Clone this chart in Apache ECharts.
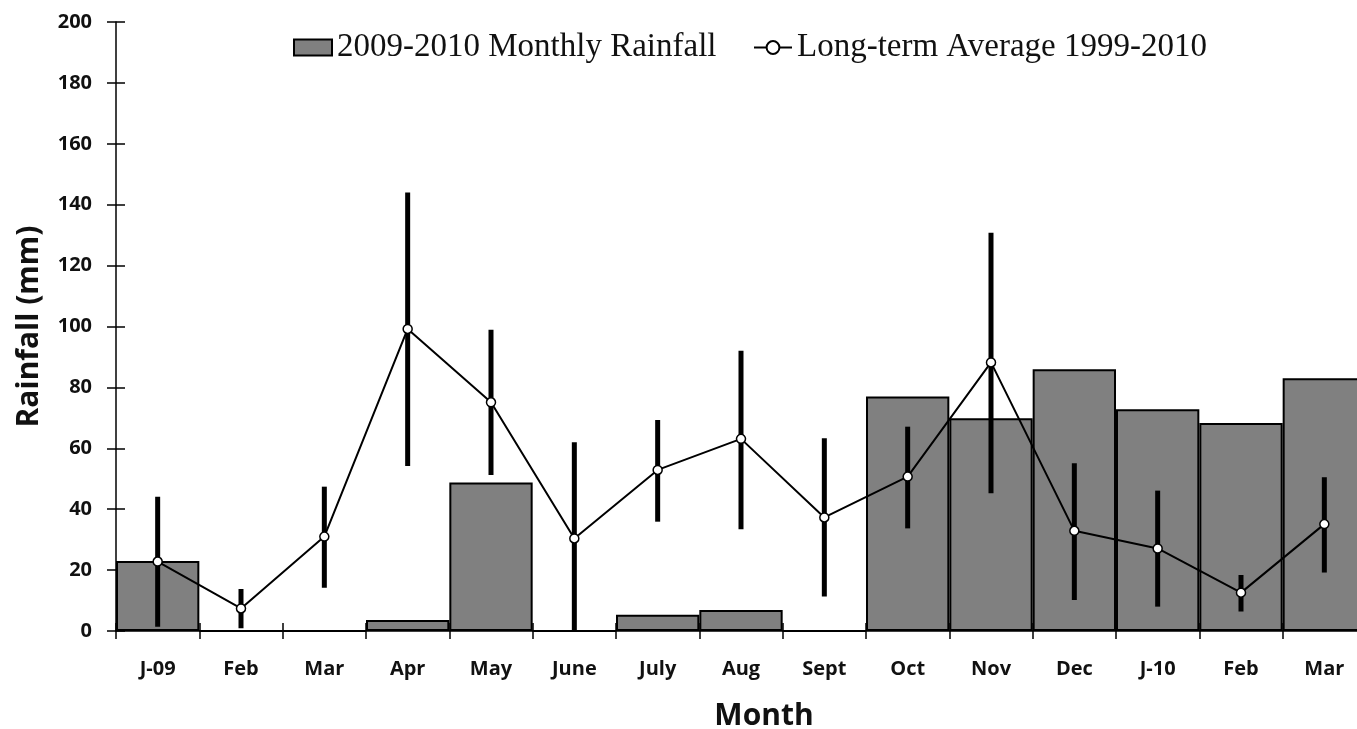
<!DOCTYPE html>
<html>
<head>
<meta charset="utf-8">
<script src="https://cdn.jsdelivr.net/npm/echarts@6/dist/echarts.min.js"></script>
<style>
html,body{margin:0;padding:0;background:#fff;}
#chart{width:1357px;height:729px;}
</style>
</head>
<body>
<div id="chart"></div>
<script>
const categories = ['J-09','Feb','Mar','Apr','May','June','July','Aug','Sept','Oct','Nov','Dec','J-10','Feb','Mar'];
const monthlyRainfall = [23, 0, 0, 3.6, 48.8, 0, 5.3, 6.9, 0, 77, 69.9, 86, 72.8, 68.3, 83];
const longTermAverage = [22.8, 7.4, 31, 99.2, 75.1, 30.4, 52.9, 63.1, 37.3, 50.7, 88.2, 32.9, 27.1, 12.6, 35.1];
const errLow  = [1.4, 0.9, 14.2, 54.2, 51.2, 0, 35.9, 33.4, 11.3, 33.7, 45.2, 10.2, 8, 6.4, 19.2];
const errHigh = [44.1, 13.8, 47.4, 144, 98.9, 62, 69.3, 92, 63.3, 67.1, 130.8, 55.1, 46.1, 18.4, 50.5];
const yTicks = {min: 0, max: 200, interval: 20};

const chart = echarts.init(document.getElementById('chart'));
const tickFont = {fontFamily: 'Open Sans', fontWeight: 'bold', fontSize: 20, color: '#111'};
const legendFont = {fontFamily: 'Liberation Serif', fontSize: 33, color: '#111'};

const option = {
  backgroundColor: '#fff',
  animation: false,
  grid: {left: 116, top: 22, width: 1250, height: 609, containLabel: false, outerBoundsMode: 'none'},
  legend: [
    {data: [{name: '2009-2010 Monthly Rainfall', icon: 'rect'}], left: 288, top: 26, itemWidth: 38, itemHeight: 16, itemGap: 4, textStyle: legendFont},
    {data: ['Long-term Average 1999-2010'], left: 748, top: 26, itemWidth: 38, itemHeight: 16, itemGap: 4, textStyle: legendFont}
  ],
  xAxis: [{
    type: 'category',
    data: categories,
    boundaryGap: true,
    name: 'Month',
    nameLocation: 'middle',
    nameGap: 70,
    nameTextStyle: {fontFamily: 'Open Sans', fontWeight: 'bold', fontSize: 30, color: '#111', padding: [0, 0, 0, 46]},
    axisLine: {lineStyle: {color: '#000', width: 1.5}},
    axisTick: {show: true, length: 8, inside: false, lineStyle: {color: '#000', width: 1.5}},
    axisLabel: Object.assign({margin: 28, interval: 0}, tickFont),
    splitLine: {show: false}
  }, {
    type: 'category',
    data: categories,
    position: 'bottom',
    axisLine: {show: false},
    axisTick: {show: true, length: 8, inside: true, lineStyle: {color: '#000', width: 1.5}},
    axisLabel: {show: false},
    splitLine: {show: false}
  }],
  yAxis: [{
    type: 'value',
    min: yTicks.min, max: yTicks.max, interval: yTicks.interval,
    name: 'Rainfall (mm)',
    nameLocation: 'middle',
    nameGap: 72,
    nameTextStyle: {fontFamily: 'Open Sans', fontWeight: 'bold', fontSize: 30, color: '#111'},
    axisLine: {show: true, lineStyle: {color: '#000', width: 1.5}},
    axisTick: {show: true, length: 9, lineStyle: {color: '#000', width: 1.5}},
    axisLabel: Object.assign({margin: 24}, tickFont),
    splitLine: {show: false}
  }, {
    type: 'value',
    min: yTicks.min, max: yTicks.max, interval: yTicks.interval,
    position: 'left',
    axisLine: {show: false},
    axisTick: {show: true, inside: true, length: 9, lineStyle: {color: '#000', width: 1.5}},
    axisLabel: {show: false},
    splitLine: {show: false}
  }],
  series: [
    {
      name: '2009-2010 Monthly Rainfall',
      type: 'bar',
      data: monthlyRainfall,
      barCategoryGap: '0%',
      itemStyle: {color: '#808080', borderColor: '#000', borderWidth: 2},
      z: 2
    },
    {
      name: 'errors',
      type: 'custom',
      data: categories.map((c, i) => [i, errLow[i], errHigh[i]]),
      renderItem: function (params, api) {
        const x = api.value(0);
        const lo = api.coord([x, api.value(1)]);
        const hi = api.coord([x, api.value(2)]);
        return {type: 'line', shape: {x1: lo[0], y1: lo[1], x2: hi[0], y2: hi[1]}, style: {stroke: '#000', lineWidth: 5}};
      },
      z: 3
    },
    {
      name: 'Long-term Average 1999-2010',
      type: 'line',
      data: longTermAverage,
      symbol: 'circle',
      symbolSize: 9,
      lineStyle: {color: '#000', width: 2},
      itemStyle: {color: '#fff', borderColor: '#000', borderWidth: 1.5},
      z: 4
    }
  ]
};
chart.setOption(option);
</script>
</body>
</html>
